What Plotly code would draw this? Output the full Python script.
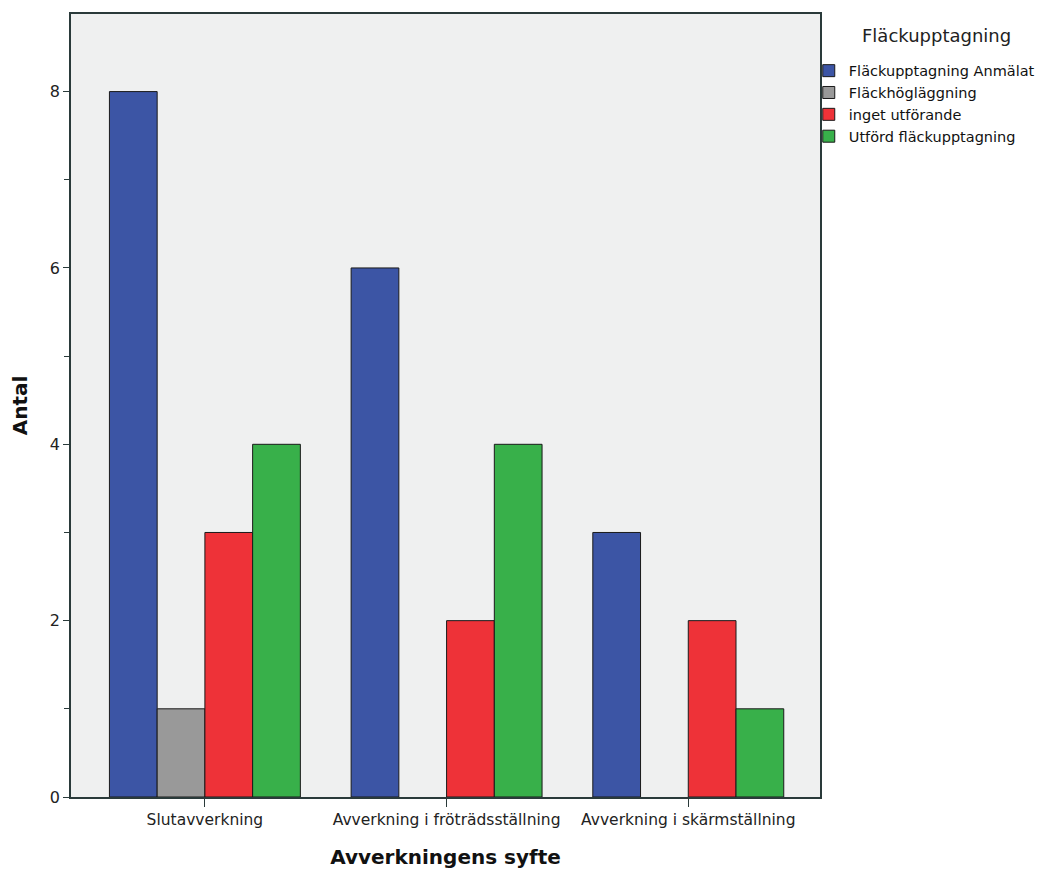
import plotly.graph_objects as go

categories = ["Slutavverkning", "Avverkning i fröträdsställning", "Avverkning i skärmställning"]
series_names = ["Fläckupptagning Anmälat", "Fläckhögläggning", "inget utförande", "Utförd fläckupptagning"]
anmalat = [8, 6, 3]
hoglaggning = [1, None, None]
inget = [3, 2, 2]
utford = [4, 4, 1]
colors = ["#3C55A5", "#999999", "#EE3238", "#38B04A"]
y_ticks = [0, 2, 4, 6, 8]
legend_title = "Fläckupptagning"

fig = go.Figure()
for name, vals, col in zip(series_names, [anmalat, hoglaggning, inget, utford], colors):
    fig.add_trace(go.Bar(x=categories, y=vals, name=name,
                         marker=dict(color=col, line=dict(color="#1a1a1a", width=1))))

font = "DejaVu Sans, Verdana, sans-serif"
fig.update_layout(
    barmode="group", bargap=0.21, bargroupgap=0,
    width=1047, height=871,
    margin=dict(l=63, r=235, t=4, b=82),
    paper_bgcolor="white", plot_bgcolor="#EFF0F0",
    font=dict(family=font, size=15, color="#222"),
    legend=dict(x=0.985, y=0.948, xanchor="left", yanchor="top",
                font=dict(size=14.5, color="#111"), tracegroupgap=0, itemwidth=30,
                bgcolor="rgba(0,0,0,0)"),
    showlegend=True,
    annotations=[dict(text=legend_title, xref="paper", yref="paper", x=1.155, y=0.973,
                      xanchor="center", yanchor="middle", showarrow=False,
                      font=dict(size=18, color="#222"))],
)
fig.update_xaxes(showline=True, linecolor="#2a3a3a", linewidth=1.5, mirror=True,
                 ticks="outside", ticklen=8, tickcolor="#2a3a3a",
                 tickfont=dict(size=15.5, color="#222"), range=[-0.554, 2.545],
                 title=dict(text="<b>Avverkningens syfte</b>", font=dict(size=20, color="#111"), standoff=22),
                 showgrid=False)
fig.update_yaxes(showline=True, linecolor="#2a3a3a", linewidth=1.5, mirror=True,
                 ticks="outside", ticklen=6, tickcolor="#2a3a3a",
                 tickvals=y_ticks, tickfont=dict(size=16, color="#222"),
                 minor=dict(dtick=1, tick0=1, ticks="outside", ticklen=5, tickcolor="#2a3a3a", showgrid=False),
                 range=[0, 8.88], showgrid=False, zeroline=False,
                 title=dict(text="<b>Antal</b>", font=dict(size=20, color="#111"), standoff=17))
fig.write_html("out.html")
